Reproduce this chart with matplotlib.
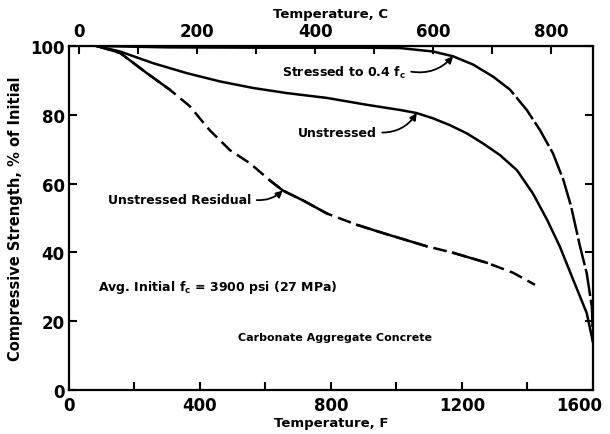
import matplotlib.pyplot as plt
from matplotlib.transforms import ScaledTranslation

# temperature (F) and compressive strength (% of initial)
stressed_t = [85, 300, 600, 900, 1011, 1111, 1173, 1234, 1295, 1347, 1398, 1438, 1478, 1510, 1533, 1560, 1581, 1597, 1600]
stressed_s = [100, 99.6, 99.5, 99.5, 99.4, 98.4, 97.0, 94.6, 91.1, 87.3, 81.4, 75.6, 68.8, 61.0, 53.5, 42.0, 34.0, 24.0, 14.0]

unstressed_t = [85, 156, 257, 360, 461, 562, 666, 788, 910, 1011, 1062, 1111, 1163, 1215, 1264, 1316, 1368,
                1417, 1460, 1499, 1540, 1581, 1600]
unstressed_s = [100, 98.4, 95.0, 92.1, 89.7, 87.8, 86.3, 84.9, 82.9, 81.4, 80.5, 79.0, 77.0, 74.6, 71.7, 68.3, 63.9,
                57.1, 49.5, 41.7, 32.0, 22.4, 14.0]

residual_t = [85, 156, 238, 308, 369, 430, 492, 553, 614, 653, 715, 788, 880, 960, 1092, 1173, 1276, 1356, 1423]
residual_s = [100, 98.0, 92.1, 87.3, 82.5, 75.5, 69.7, 65.9, 60.9, 58.0, 55.1, 51.3, 48.0, 45.6, 41.8, 39.9, 37.0,
              34.1, 30.6]
# index ranges of the residual curve that are drawn solid in the original
residual_solid = [(0, 3), (8, 11), (12, 14), (15, 16)]

xticks_f = [0, 400, 800, 1200, 1600]
xticks_c = [0, 200, 400, 600, 800]
yticks = [0, 20, 40, 60, 80, 100]

plt.rcParams['font.family'] = 'DejaVu Sans'
plt.rcParams['font.weight'] = 'bold'

fig = plt.figure(figsize=(6.1, 4.35), dpi=100)
ax = fig.add_axes([0.113, 0.101, 0.859, 0.791])

lw = 1.8
ax.plot(stressed_t[:9], stressed_s[:9], color='black', lw=lw)
ax.plot(stressed_t[8:], stressed_s[8:], color='black', lw=lw, linestyle=(0, (11, 1.5)))
ax.plot(unstressed_t, unstressed_s, color='black', lw=lw)
ax.plot(residual_t, residual_s, color='black', lw=lw, linestyle=(0, (5.5, 2.5)))
for i, j in residual_solid:
    ax.plot(residual_t[i:j + 1], residual_s[i:j + 1], color='black', lw=lw)

ax.set_xlim(0, 1600)
ax.set_ylim(0, 100)
ax.set_xticks(xticks_f)
ax.set_xticks(range(200, 1600, 400), minor=True)
ax.set_yticks(yticks)
ax.tick_params(which='both', direction='in', length=6, width=1.5, labelsize=12,
               right=True, pad=4)
ax.tick_params(axis='y', pad=3)
for s in ax.spines.values():
    s.set_linewidth(1.6)
# last bottom label sits a bit left so it stays inside the figure
last = ax.get_xticklabels()[-1]
last.set_transform(last.get_transform() + ScaledTranslation(-10 / 72, 0, fig.dpi_scale_trans))

top = ax.secondary_xaxis('top', functions=(lambda f: (f - 32) * 5 / 9, lambda c: c * 9 / 5 + 32))
top.set_xticks(xticks_c)
top.set_xticks(range(100, 900, 200), minor=True)
top.tick_params(which='both', direction='in', length=6, width=1.5, labelsize=12, pad=4)
top.set_xlabel('Temperature, C', fontsize=9.5, fontweight='bold', labelpad=4)

ax.set_xlabel('Temperature, F', fontsize=9.5, fontweight='bold', labelpad=2)
ax.set_ylabel('Compressive Strength, % of Initial', fontsize=10.5, fontweight='bold', labelpad=5)

arrow = dict(arrowstyle='-|>', color='black', lw=1.3, mutation_scale=10)
ax.annotate(r'Stressed to 0.4 f$_{\mathbf{c}}$', xy=(1173, 97.0), xytext=(650, 92.4),
            fontsize=9, fontweight='bold', va='center',
            arrowprops=dict(arrow, connectionstyle='arc3,rad=0.3', shrinkA=2, shrinkB=0,
                            relpos=(1, 0.6)))
ax.annotate('Unstressed', xy=(1062, 80.5), xytext=(699, 74.9),
            fontsize=9, fontweight='bold', va='center',
            arrowprops=dict(arrow, connectionstyle='arc3,rad=0.3', shrinkA=2, shrinkB=0,
                            relpos=(1, 0.5)))
ax.annotate('Unstressed Residual', xy=(653, 58.0), xytext=(119, 55.4),
            fontsize=9, fontweight='bold', va='center',
            arrowprops=dict(arrow, connectionstyle='arc3,rad=0.25', shrinkA=2, shrinkB=0,
                            relpos=(1, 0.5)))
ax.text(89, 30, r'Avg. Initial f$_{\mathbf{c}}$ = 3900 psi (27 MPa)', fontsize=9,
        fontweight='bold', va='center')
ax.text(516, 15.5, 'Carbonate Aggregate Concrete', fontsize=8, fontweight='bold', va='center')

fig.savefig('out.png', dpi=100)
